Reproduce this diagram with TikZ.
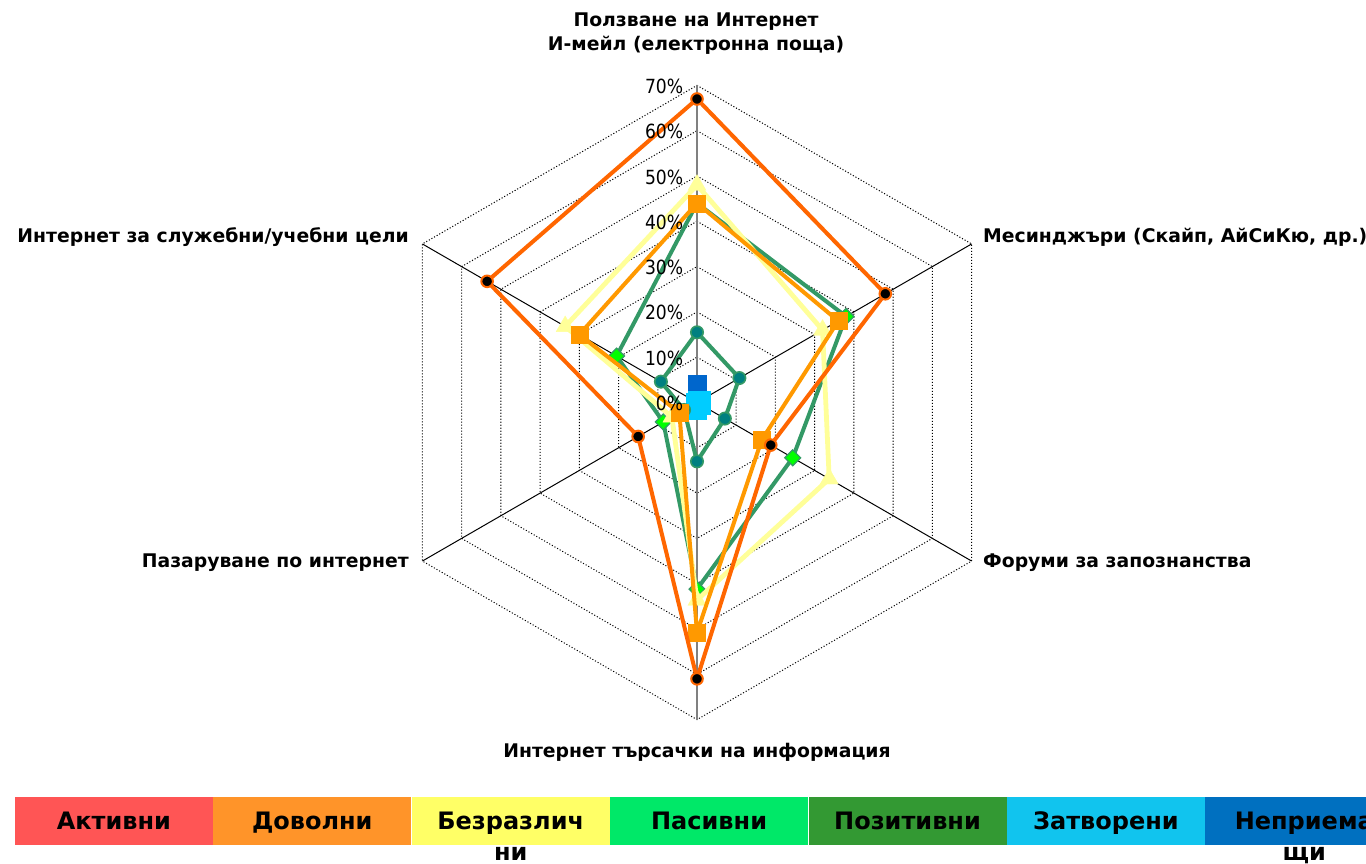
\documentclass[tikz,border=0pt]{standalone}
\usepackage{fontspec}
\setmainfont{DejaVu Sans}
\newfontfamily\pctfont{DejaVu Sans}[FakeStretch=0.88]
\usepackage{xcolor}
\usepackage{tikz}
\usetikzlibrary{positioning,plotmarks}

\definecolor{actline}{HTML}{FF6600}
\definecolor{satline}{HTML}{FF9900}
\definecolor{indline}{HTML}{FFFF99}
\definecolor{grnline}{HTML}{339966}
\definecolor{grnmark}{HTML}{00FF00}
\definecolor{tealmark}{HTML}{008080}
\definecolor{closedmark}{HTML}{00CCFF}
\definecolor{rejmark}{HTML}{0066CC}
\definecolor{legA}{HTML}{FF5555}
\definecolor{legB}{HTML}{FF9429}
\definecolor{legC}{HTML}{FFFF66}
\definecolor{legD}{HTML}{00E868}
\definecolor{legE}{HTML}{339933}
\definecolor{legF}{HTML}{11C4EE}
\definecolor{legG}{HTML}{0070C0}

\tikzset{
  gridring/.style={black,line width=1pt,dash pattern=on 1.1pt off 1.9pt},
  spoke/.style={black,line width=1pt},
  cat/.style={font=\fontsize{18.8}{24.3}\selectfont\bfseries,inner sep=0pt},
  pct/.style={font=\pctfont\fontsize{19.5}{22}\selectfont,inner sep=0pt},
  legbox/.style={minimum width=198pt,minimum height=48pt,inner sep=0pt},
  legtext/.style={font=\fontsize{24}{31}\selectfont\bfseries,align=center,inner sep=0pt,anchor=base},
}

\begin{document}
\begin{tikzpicture}[x=1pt,y=1pt]
\useasboundingbox (0,0) rectangle (1366,-864);
\fill[white] (0,0) rectangle (1366,-864);

\begin{scope}[shift={(697,-402.5)},x=4.53pt,y=4.53pt]
% grid
\foreach \r in {10,20,...,70}
  \draw[gridring] (90:\r)--(30:\r)--(-30:\r)--(-90:\r)--(210:\r)--(150:\r)--cycle;
\foreach \a in {30,-30,210,150}
  \draw[spoke] (0,0)--(\a:70);
\draw[gray,line width=1.6pt] (90:70)--(-90:70);

% data points
\coordinate (n1) at (90:4.1); \coordinate (n2) at (30:0); \coordinate (n3) at (-30:0);
\coordinate (n4) at (-90:0); \coordinate (n5) at (210:0); \coordinate (n6) at (150:0);
\coordinate (c1) at (90:0.5); \coordinate (c2) at (30:1); \coordinate (c3) at (-30:1);
\coordinate (c4) at (-90:1.8); \coordinate (c5) at (210:0.5); \coordinate (c6) at (150:0.5);
\coordinate (t1) at (90:15.5); \coordinate (t2) at (30:10.8); \coordinate (t3) at (-30:7.1);
\coordinate (t4) at (-90:13); \coordinate (t5) at (210:3.3); \coordinate (t6) at (150:9.2);
\coordinate (g1) at (90:44); \coordinate (g2) at (30:38); \coordinate (g3) at (-30:24.4);
\coordinate (g4) at (-90:41.2); \coordinate (g5) at (210:8.6); \coordinate (g6) at (150:20.5);
\coordinate (y1) at (90:48); \coordinate (y2) at (30:32); \coordinate (y3) at (-30:33.7);
\coordinate (y4) at (-90:43.6); \coordinate (y5) at (210:6.4); \coordinate (y6) at (150:33.6);
\coordinate (d1) at (90:44); \coordinate (d2) at (30:36); \coordinate (d3) at (-30:16.5);
\coordinate (d4) at (-90:50.8); \coordinate (d5) at (210:4.5); \coordinate (d6) at (150:30);
\coordinate (a1) at (90:67); \coordinate (a2) at (30:48); \coordinate (a3) at (-30:18.8);
\coordinate (a4) at (-90:61); \coordinate (a5) at (210:15); \coordinate (a6) at (150:53.5);

% series
\draw[rejmark,line width=4pt] plot[mark=square*,mark size=8.8pt,mark options={fill=rejmark,draw=rejmark,line width=0.1pt}]
  coordinates {(n1) (n2) (n3) (n4) (n5) (n6)} -- cycle;
\draw[closedmark,line width=4pt] plot[mark=square*,mark size=8.8pt,mark options={fill=closedmark,draw=closedmark,line width=0.1pt}]
  coordinates {(c1) (c2) (c3) (c4) (c5) (c6)} -- cycle;
\draw[grnline,line width=4pt] plot[mark=*,mark size=6.2pt,mark options={fill=tealmark,draw=grnline,line width=1.6pt}]
  coordinates {(t1) (t2) (t3) (t4) (t5) (t6)} -- cycle;
\draw[grnline,line width=4pt] plot[mark=square*,mark size=5.6pt,mark options={rotate=45,fill=grnmark,draw=grnline,line width=1.2pt}]
  coordinates {(g1) (g2) (g3) (g4) (g5) (g6)} -- cycle;
\draw[indline,line width=4.8pt] plot[mark=triangle*,mark size=10.5pt,mark options={fill=indline,draw=indline,line width=0.3pt}]
  coordinates {(y1) (y2) (y3) (y4) (y5) (y6)} -- cycle;
\draw[satline,line width=4pt] plot[mark=square*,mark size=8.5pt,mark options={fill=satline,draw=satline,line width=0.1pt}]
  coordinates {(d1) (d2) (d3) (d4) (d5) (d6)} -- cycle;
\draw[actline,line width=4pt] plot[mark=*,mark size=5.8pt,mark options={fill=black,draw=actline,line width=2pt}]
  coordinates {(a1) (a2) (a3) (a4) (a5) (a6)} -- cycle;

% value labels on top
\foreach \r in {0,10,...,70}
  \node[pct,anchor=east] (p\r) at (-3,\r-0.22) {\r\%};
\end{scope}

% axis titles
\node[cat,align=center,anchor=base] (ctop) at (696,-51) {Ползване на Интернет\\И-мейл (електронна поща)};
\node[cat,anchor=base west] (cur) at (983,-242.3) {Месинджъри (Скайп, АйСиКю, др.)};
\node[cat,anchor=base west] (clr) at (983,-567) {Форуми за запознанства};
\node[cat,anchor=base] (cbot) at (697,-757) {Интернет търсачки на информация};
\node[cat,anchor=base east] (cll) at (409,-567) {Пазаруване по интернет};
\node[cat,anchor=base east] (cul) at (409,-242.3) {Интернет за служебни/учебни цели};

% legend
\node[legbox,anchor=north west,fill=legA] (kA) at (14.7,-797) {};
\node[legbox,fill=legB,right=0pt of kA] (kB) {};
\node[legbox,fill=legC,right=0pt of kB] (kC) {};
\node[legbox,fill=legD,right=0pt of kC] (kD) {};
\node[legbox,fill=legE,right=0pt of kD] (kE) {};
\node[legbox,fill=legF,right=0pt of kE] (kF) {};
\node[legbox,fill=legG,right=0pt of kF] (kG) {};
\node[legtext] (tA) at ([yshift=-8.5pt]kA.center) {Активни};
\node[legtext] (tB) at ([yshift=-8.5pt]kB.center) {Доволни};
\node[legtext] (tC) at ([yshift=-39.5pt]kC.center) {Безразлич\\ни};
\node[legtext] (tD) at ([yshift=-8.5pt]kD.center) {Пасивни};
\node[legtext] (tE) at ([yshift=-8.5pt]kE.center) {Позитивни};
\node[legtext] (tF) at ([yshift=-8.5pt]kF.center) {Затворени};
\node[legtext] (tG) at ([yshift=-39.5pt]kG.center) {Неприема\\щи};
\end{tikzpicture}
\end{document}
